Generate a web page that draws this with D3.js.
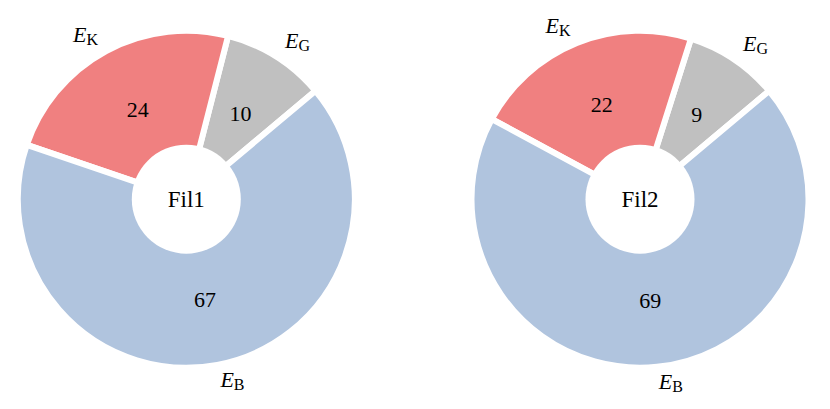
<!DOCTYPE html>
<html>
<head>
<meta charset="utf-8">
<script src="https://cdn.jsdelivr.net/npm/d3@7"></script>
<style>
  body { margin: 0; background: #fff; }
  text { font-family: "Liberation Serif", "DejaVu Serif", serif; fill: #000; }
</style>
</head>
<body>
<div id="canvas"></div>
<script>
// slice order follows the original (counter-clockwise from 40 deg)
const categories = ["G", "K", "B"];
const colours = ["#c0c0c0", "#f08080", "#b0c4de"];
const fil1Values = [10, 24, 67];
const fil2Values = [9, 22, 69];
const titles = ["Fil1", "Fil2"];

const width = 830, height = 409;
const outerR = 168.5, holeR = 54.5;

let svg = d3.select("#canvas")
    .append("svg")
    .attr("width", width)
    .attr("height", height);

const toRad = deg => deg * Math.PI / 180;

let pie = d3.pie()
    .sort(null)
    .startAngle(toRad(50))
    .endAngle(toRad(50 - 360));

let arc = d3.arc().innerRadius(0).outerRadius(outerR);

function drawDonut(values, title, cx, cy) {
    let g = svg.append("g")
        .attr("transform", "translate(" + cx + "," + cy + ")");
    let slices = pie(values);

    g.selectAll("path")
        .data(slices)
        .enter()
        .append("path")
        .attr("d", arc)
        .attr("fill", (d, i) => colours[i])
        .attr("stroke", "#fff")
        .attr("stroke-width", 6)
        .attr("stroke-linejoin", "miter");

    g.append("circle")
        .attr("r", holeR)
        .attr("fill", "#fff");

    g.append("text")
        .attr("text-anchor", "middle")
        .attr("dy", "0.35em")
        .style("font-size", "23px")
        .text(title);

    // value labels
    let valueArc = d3.arc().innerRadius(102).outerRadius(102);
    g.selectAll(".val")
        .data(slices)
        .enter()
        .append("text")
        .attr("class", "val")
        .attr("transform", d => "translate(" + valueArc.centroid(d) + ")")
        .attr("text-anchor", "middle")
        .attr("dy", "0.35em")
        .style("font-size", "22px")
        .text(d => d.value);

    // category labels at 1.1 R
    let labelArc = d3.arc().innerRadius(outerR * 1.1).outerRadius(outerR * 1.1);
    g.selectAll(".lab")
        .data(slices)
        .enter()
        .append("text")
        .attr("class", "lab")
        .attr("transform", d => "translate(" + labelArc.centroid(d) + ")")
        .attr("text-anchor", d => labelArc.centroid(d)[0] > 0 ? "start" : "end")
        .attr("dy", "0.25em")
        .style("font-size", "22px")
        .each(function (d, i) {
            let t = d3.select(this);
            t.append("tspan").style("font-style", "italic").text("E");
            t.append("tspan")
                .attr("dy", "0.18em")
                .style("font-size", "16px")
                .text(categories[i]);
        });
}

drawDonut(fil1Values, titles[0], 186.3, 199.2);
drawDonut(fil2Values, titles[1], 640, 199.2);
</script>
</body>
</html>
